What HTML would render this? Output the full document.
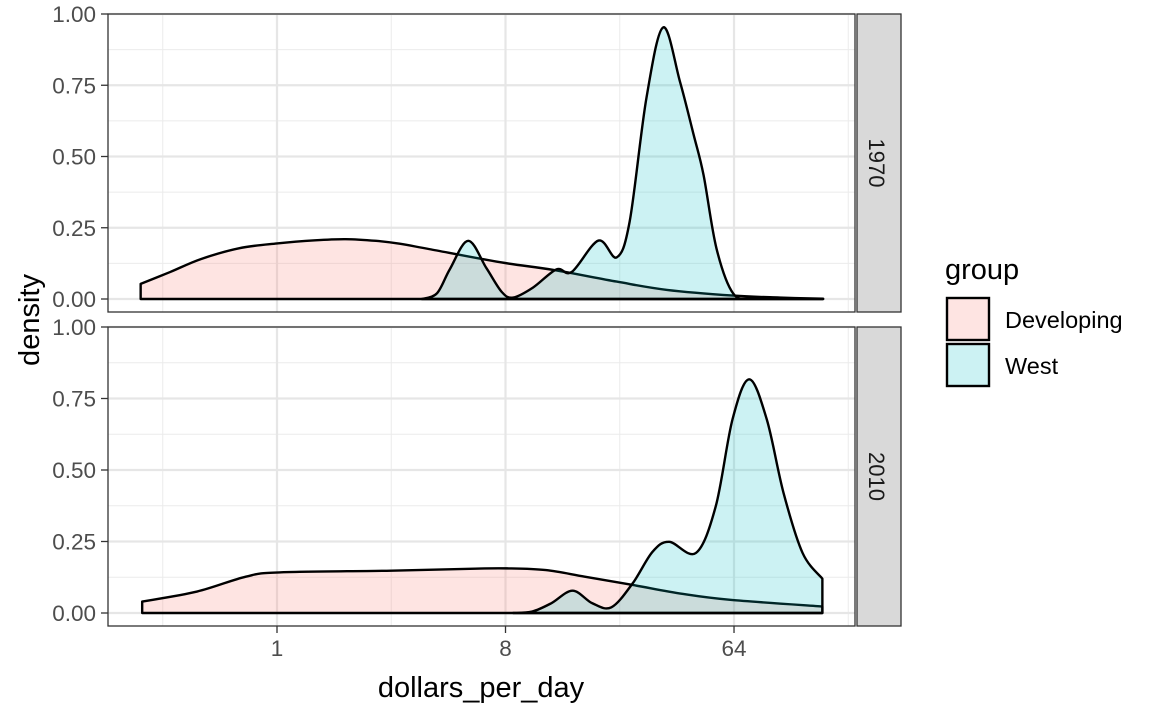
<!DOCTYPE html>
<html><head><meta charset="utf-8"><style>
body{margin:0;background:#fff}
svg{display:block;font-family:"Liberation Sans",Arial,sans-serif}
</style></head><body>
<svg id="chart" width="1152" height="711" viewBox="0 0 1152 711" xmlns="http://www.w3.org/2000/svg"></svg>
<script>
// Data: x in log2(dollars_per_day), y density
const devX1970 = [-1.79,-1.4,-1.0,-0.5,0,0.5,0.9,1.3,1.61,2.0,2.93,3.63,4.46,5.12,5.99,6.6,7.17];
const devY1970 = [0.053,0.095,0.14,0.178,0.195,0.206,0.21,0.204,0.194,0.175,0.129,0.102,0.061,0.032,0.012,0.005,0.001];
const westX1970 = [1.9,2.1,2.27,2.51,2.75,2.95,3.1,3.36,3.67,3.87,4.22,4.46,4.63,4.85,5.07,5.29,5.47,5.6,5.77,5.99,6.25,6.7,7.17];
const westY1970 = [0,0.02,0.105,0.204,0.108,0.025,0.005,0.04,0.104,0.095,0.205,0.146,0.272,0.705,0.953,0.763,0.576,0.435,0.177,0.019,0.002,0.0005,0];
const devX2010 = [-1.77,-1.05,-0.41,0.03,1.5,2.6,3.02,3.53,4.04,4.67,5.32,5.95,7.16];
const devY2010 = [0.04,0.075,0.127,0.142,0.148,0.155,0.156,0.15,0.127,0.098,0.067,0.046,0.023];
const westX2010 = [3.1,3.35,3.6,3.88,4.14,4.39,4.67,4.93,5.15,5.5,5.76,5.98,6.2,6.43,6.65,6.9,7.16];
const westY2010 = [0,0.005,0.034,0.078,0.034,0.02,0.104,0.214,0.249,0.21,0.373,0.677,0.817,0.677,0.42,0.21,0.12];
const yTicks = [0,0.25,0.5,0.75,1.0];
const yTickLabels = ["0.00","0.25","0.50","0.75","1.00"];
const xTicks = [0,3,6];
const xTickLabels = ["1","8","64"];
const xMinor = [-1.5,1.5,4.5,7.5];
const years = ["1970","2010"];

const NS="http://www.w3.org/2000/svg";
const svg=document.getElementById('chart');
function el(tag,attrs,parent){const e=document.createElementNS(NS,tag);for(const k in attrs)e.setAttribute(k,attrs[k]);(parent||svg).appendChild(e);return e;}
const PX0=108,PX1=855;
const xs=L=>277+76.17*L;
const panels=[{top:14,bot:312,zero:299},{top:327,bot:626,zero:613}];
function ys(p,d){return p.zero-(p.zero-p.top)*d;}
function smooth(pts){let d=`M${pts[0][0]},${pts[0][1]}`;for(let i=0;i<pts.length-1;i++){const p0=pts[i-1]||pts[i],p1=pts[i],p2=pts[i+1],p3=pts[i+2]||p2;
const c1x=p1[0]+(p2[0]-p0[0])/6,c1y=p1[1]+(p2[1]-p0[1])/6,c2x=p2[0]-(p3[0]-p1[0])/6,c2y=p2[1]-(p3[1]-p1[1])/6;
d+=` C${c1x},${c1y} ${c2x},${c2y} ${p2[0]},${p2[1]}`;}return d;}
const series=[[[devX1970,devY1970],[westX1970,westY1970]],[[devX2010,devY2010],[westX2010,westY2010]]];
const fills=["#F8766D","#00BFC4"];
panels.forEach((p,pi)=>{
  const g=el('g',{});
  
  
  el('rect',{x:PX0,y:p.top,width:PX1-PX0,height:p.bot-p.top,fill:'#fff'},g);
  yTicks.forEach((t,i)=>{ if(i<yTicks.length-1){const m=el('line',{x1:PX0,x2:PX1,y1:ys(p,t+0.125),y2:ys(p,t+0.125),stroke:'#ebebeb','stroke-width':1},g);}});
  xMinor.forEach(t=>{const m=el('line',{x1:xs(t),x2:xs(t),y1:p.top,y2:p.bot,stroke:'#ebebeb','stroke-width':1},g);});
  yTicks.forEach(t=>{const m=el('line',{x1:PX0,x2:PX1,y1:ys(p,t),y2:ys(p,t),stroke:'#e6e6e6','stroke-width':2.2},g);});
  xTicks.forEach(t=>{const m=el('line',{x1:xs(t),x2:xs(t),y1:p.top,y2:p.bot,stroke:'#e6e6e6','stroke-width':2.2},g);});
  series[pi].forEach((s,si)=>{
    const pts=s[0].map((x,i)=>[xs(x),ys(p,s[1][i])]);
    const d=smooth(pts)+` L${pts[pts.length-1][0]},${p.zero} L${pts[0][0]},${p.zero} Z`;
    const a=el('path',{d:d,fill:fills[si],'fill-opacity':0.2,stroke:'#000','stroke-width':2.4,'stroke-linejoin':'round'},g);
    
    
  });
  const b=el('rect',{x:PX0,y:p.top,width:PX1-PX0,height:p.bot-p.top,fill:'none',stroke:'#333','stroke-width':1.3},g);
  
  
  yTicks.forEach((t,i)=>{
    el('line',{x1:101,x2:PX0,y1:ys(p,t),y2:ys(p,t),stroke:'#333','stroke-width':1.3},g);
    const tx=el('text',{x:96,y:ys(p,t)+8,'text-anchor':'end',style:'font-size:22.5px',fill:'#4d4d4d'},g);
    tx.textContent=yTickLabels[i];
    
    
  });
  const st=el('rect',{x:857,y:p.top,width:44,height:p.bot-p.top,fill:'#d9d9d9',stroke:'#333','stroke-width':1.3},g);
  
  
  const cy=(p.top+p.bot)/2;
  const stt=el('text',{x:869,y:cy,transform:`rotate(90 869 ${cy})`,'text-anchor':'middle',style:'font-size:22px',fill:'#1a1a1a'},g);
  stt.textContent=years[pi];
  
  
});
xTicks.forEach((t,i)=>{
  el('line',{x1:xs(t),x2:xs(t),y1:626,y2:633,stroke:'#333','stroke-width':1.3});
  const tx=el('text',{x:xs(t),y:656,'text-anchor':'middle',style:'font-size:22.5px',fill:'#4d4d4d'});
  tx.textContent=xTickLabels[i];
  
  
});
const xt=el('text',{x:481,y:697,'text-anchor':'middle',style:'font-size:29px',fill:'#000'});
xt.textContent='dollars_per_day';


const yt=el('text',{x:39,y:320,transform:'rotate(-90 39 320)','text-anchor':'middle',style:'font-size:29px',fill:'#000'});
yt.textContent='density';


const lg=el('g',{});


const lt=el('text',{x:945,y:279,style:'font-size:29px',fill:'#000'},lg);
lt.textContent='group';


["Developing","West"].forEach((n,i)=>{
  const y0=297+i*46;
  el('rect',{x:946,y:y0,width:44,height:44,fill:'#fff'},lg);
  const k=el('rect',{x:947,y:y0+1,width:42,height:42,fill:fills[i],'fill-opacity':0.2,stroke:'#000','stroke-width':2.4},lg);
  
  
  const t=el('text',{x:1005,y:y0+31,style:'font-size:23.5px',fill:'#000'},lg);
  t.textContent=n;
  
  
});
</script>
</body></html>
